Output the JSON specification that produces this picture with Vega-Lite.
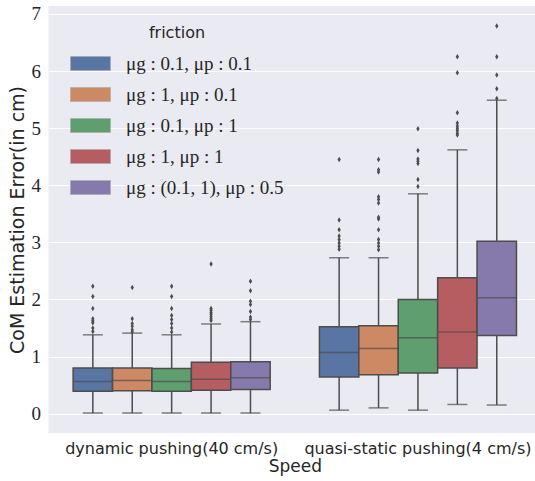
{
  "$schema": "https://vega.github.io/schema/vega-lite/v6.json",
  "width": 486.5,
  "height": 427,
  "autosize": {"type": "none"},
  "padding": {"left": 48.5, "top": 6, "right": 0, "bottom": 48},
  "background": "white",
  "config": {
    "view": {"fill": "#eaeaf2", "stroke": null},
    "axis": {"domain": false, "ticks": false, "labelColor": "#262626", "titleColor": "#262626", "titleFontWeight": "normal"}
  },
  "datasets": {
    "boxes": [
      {"speed": "dynamic pushing(40 cm/s)", "friction": "μg : 0.1, μp : 0.1", "lower": 0.01, "q1": 0.39, "median": 0.56, "q3": 0.80, "upper": 1.38},
      {"speed": "dynamic pushing(40 cm/s)", "friction": "μg : 1, μp : 0.1", "lower": 0.01, "q1": 0.40, "median": 0.58, "q3": 0.80, "upper": 1.41},
      {"speed": "dynamic pushing(40 cm/s)", "friction": "μg : 0.1, μp : 1", "lower": 0.01, "q1": 0.39, "median": 0.56, "q3": 0.79, "upper": 1.38},
      {"speed": "dynamic pushing(40 cm/s)", "friction": "μg : 1, μp : 1", "lower": 0.01, "q1": 0.41, "median": 0.60, "q3": 0.90, "upper": 1.57},
      {"speed": "dynamic pushing(40 cm/s)", "friction": "μg : (0.1, 1), μp : 0.5", "lower": 0.01, "q1": 0.42, "median": 0.63, "q3": 0.91, "upper": 1.61},
      {"speed": "quasi-static pushing(4 cm/s)", "friction": "μg : 0.1, μp : 0.1", "lower": 0.06, "q1": 0.64, "median": 1.07, "q3": 1.52, "upper": 2.73},
      {"speed": "quasi-static pushing(4 cm/s)", "friction": "μg : 1, μp : 0.1", "lower": 0.10, "q1": 0.68, "median": 1.14, "q3": 1.54, "upper": 2.73},
      {"speed": "quasi-static pushing(4 cm/s)", "friction": "μg : 0.1, μp : 1", "lower": 0.06, "q1": 0.71, "median": 1.33, "q3": 2.00, "upper": 3.85},
      {"speed": "quasi-static pushing(4 cm/s)", "friction": "μg : 1, μp : 1", "lower": 0.16, "q1": 0.80, "median": 1.43, "q3": 2.38, "upper": 4.62},
      {"speed": "quasi-static pushing(4 cm/s)", "friction": "μg : (0.1, 1), μp : 0.5", "lower": 0.15, "q1": 1.37, "median": 2.03, "q3": 3.02, "upper": 5.49}
    ],
    "outliers": [
      {"speed": "dynamic pushing(40 cm/s)", "friction": "μg : 0.1, μp : 0.1", "value": 2.23},
      {"speed": "dynamic pushing(40 cm/s)", "friction": "μg : 0.1, μp : 0.1", "value": 2.05},
      {"speed": "dynamic pushing(40 cm/s)", "friction": "μg : 0.1, μp : 0.1", "value": 1.84},
      {"speed": "dynamic pushing(40 cm/s)", "friction": "μg : 0.1, μp : 0.1", "value": 1.66},
      {"speed": "dynamic pushing(40 cm/s)", "friction": "μg : 0.1, μp : 0.1", "value": 1.62},
      {"speed": "dynamic pushing(40 cm/s)", "friction": "μg : 0.1, μp : 0.1", "value": 1.59},
      {"speed": "dynamic pushing(40 cm/s)", "friction": "μg : 0.1, μp : 0.1", "value": 1.50},
      {"speed": "dynamic pushing(40 cm/s)", "friction": "μg : 0.1, μp : 0.1", "value": 1.44},
      {"speed": "dynamic pushing(40 cm/s)", "friction": "μg : 1, μp : 0.1", "value": 2.21},
      {"speed": "dynamic pushing(40 cm/s)", "friction": "μg : 1, μp : 0.1", "value": 1.66},
      {"speed": "dynamic pushing(40 cm/s)", "friction": "μg : 1, μp : 0.1", "value": 1.58},
      {"speed": "dynamic pushing(40 cm/s)", "friction": "μg : 1, μp : 0.1", "value": 1.53},
      {"speed": "dynamic pushing(40 cm/s)", "friction": "μg : 1, μp : 0.1", "value": 1.47},
      {"speed": "dynamic pushing(40 cm/s)", "friction": "μg : 1, μp : 0.1", "value": 1.43},
      {"speed": "dynamic pushing(40 cm/s)", "friction": "μg : 0.1, μp : 1", "value": 2.23},
      {"speed": "dynamic pushing(40 cm/s)", "friction": "μg : 0.1, μp : 1", "value": 2.05},
      {"speed": "dynamic pushing(40 cm/s)", "friction": "μg : 0.1, μp : 1", "value": 1.84},
      {"speed": "dynamic pushing(40 cm/s)", "friction": "μg : 0.1, μp : 1", "value": 1.72},
      {"speed": "dynamic pushing(40 cm/s)", "friction": "μg : 0.1, μp : 1", "value": 1.65},
      {"speed": "dynamic pushing(40 cm/s)", "friction": "μg : 0.1, μp : 1", "value": 1.58},
      {"speed": "dynamic pushing(40 cm/s)", "friction": "μg : 0.1, μp : 1", "value": 1.50},
      {"speed": "dynamic pushing(40 cm/s)", "friction": "μg : 0.1, μp : 1", "value": 1.43},
      {"speed": "dynamic pushing(40 cm/s)", "friction": "μg : 1, μp : 1", "value": 2.62},
      {"speed": "dynamic pushing(40 cm/s)", "friction": "μg : 1, μp : 1", "value": 1.84},
      {"speed": "dynamic pushing(40 cm/s)", "friction": "μg : 1, μp : 1", "value": 1.81},
      {"speed": "dynamic pushing(40 cm/s)", "friction": "μg : 1, μp : 1", "value": 1.77},
      {"speed": "dynamic pushing(40 cm/s)", "friction": "μg : 1, μp : 1", "value": 1.74},
      {"speed": "dynamic pushing(40 cm/s)", "friction": "μg : 1, μp : 1", "value": 1.70},
      {"speed": "dynamic pushing(40 cm/s)", "friction": "μg : 1, μp : 1", "value": 1.66},
      {"speed": "dynamic pushing(40 cm/s)", "friction": "μg : 1, μp : 1", "value": 1.63},
      {"speed": "dynamic pushing(40 cm/s)", "friction": "μg : (0.1, 1), μp : 0.5", "value": 2.32},
      {"speed": "dynamic pushing(40 cm/s)", "friction": "μg : (0.1, 1), μp : 0.5", "value": 2.15},
      {"speed": "dynamic pushing(40 cm/s)", "friction": "μg : (0.1, 1), μp : 0.5", "value": 1.97},
      {"speed": "dynamic pushing(40 cm/s)", "friction": "μg : (0.1, 1), μp : 0.5", "value": 1.91},
      {"speed": "dynamic pushing(40 cm/s)", "friction": "μg : (0.1, 1), μp : 0.5", "value": 1.79},
      {"speed": "dynamic pushing(40 cm/s)", "friction": "μg : (0.1, 1), μp : 0.5", "value": 1.69},
      {"speed": "dynamic pushing(40 cm/s)", "friction": "μg : (0.1, 1), μp : 0.5", "value": 1.65},
      {"speed": "quasi-static pushing(4 cm/s)", "friction": "μg : 0.1, μp : 0.1", "value": 4.45},
      {"speed": "quasi-static pushing(4 cm/s)", "friction": "μg : 0.1, μp : 0.1", "value": 3.39},
      {"speed": "quasi-static pushing(4 cm/s)", "friction": "μg : 0.1, μp : 0.1", "value": 3.22},
      {"speed": "quasi-static pushing(4 cm/s)", "friction": "μg : 0.1, μp : 0.1", "value": 3.11},
      {"speed": "quasi-static pushing(4 cm/s)", "friction": "μg : 0.1, μp : 0.1", "value": 3.05},
      {"speed": "quasi-static pushing(4 cm/s)", "friction": "μg : 0.1, μp : 0.1", "value": 2.99},
      {"speed": "quasi-static pushing(4 cm/s)", "friction": "μg : 0.1, μp : 0.1", "value": 2.93},
      {"speed": "quasi-static pushing(4 cm/s)", "friction": "μg : 0.1, μp : 0.1", "value": 2.88},
      {"speed": "quasi-static pushing(4 cm/s)", "friction": "μg : 1, μp : 0.1", "value": 4.45},
      {"speed": "quasi-static pushing(4 cm/s)", "friction": "μg : 1, μp : 0.1", "value": 4.27},
      {"speed": "quasi-static pushing(4 cm/s)", "friction": "μg : 1, μp : 0.1", "value": 4.23},
      {"speed": "quasi-static pushing(4 cm/s)", "friction": "μg : 1, μp : 0.1", "value": 3.80},
      {"speed": "quasi-static pushing(4 cm/s)", "friction": "μg : 1, μp : 0.1", "value": 3.75},
      {"speed": "quasi-static pushing(4 cm/s)", "friction": "μg : 1, μp : 0.1", "value": 3.69},
      {"speed": "quasi-static pushing(4 cm/s)", "friction": "μg : 1, μp : 0.1", "value": 3.44},
      {"speed": "quasi-static pushing(4 cm/s)", "friction": "μg : 1, μp : 0.1", "value": 3.41},
      {"speed": "quasi-static pushing(4 cm/s)", "friction": "μg : 1, μp : 0.1", "value": 3.22},
      {"speed": "quasi-static pushing(4 cm/s)", "friction": "μg : 1, μp : 0.1", "value": 3.05},
      {"speed": "quasi-static pushing(4 cm/s)", "friction": "μg : 1, μp : 0.1", "value": 2.99},
      {"speed": "quasi-static pushing(4 cm/s)", "friction": "μg : 1, μp : 0.1", "value": 2.93},
      {"speed": "quasi-static pushing(4 cm/s)", "friction": "μg : 1, μp : 0.1", "value": 2.87},
      {"speed": "quasi-static pushing(4 cm/s)", "friction": "μg : 0.1, μp : 1", "value": 4.99},
      {"speed": "quasi-static pushing(4 cm/s)", "friction": "μg : 0.1, μp : 1", "value": 4.61},
      {"speed": "quasi-static pushing(4 cm/s)", "friction": "μg : 0.1, μp : 1", "value": 4.46},
      {"speed": "quasi-static pushing(4 cm/s)", "friction": "μg : 0.1, μp : 1", "value": 4.42},
      {"speed": "quasi-static pushing(4 cm/s)", "friction": "μg : 0.1, μp : 1", "value": 4.38},
      {"speed": "quasi-static pushing(4 cm/s)", "friction": "μg : 0.1, μp : 1", "value": 4.10},
      {"speed": "quasi-static pushing(4 cm/s)", "friction": "μg : 0.1, μp : 1", "value": 3.98},
      {"speed": "quasi-static pushing(4 cm/s)", "friction": "μg : 1, μp : 1", "value": 6.25},
      {"speed": "quasi-static pushing(4 cm/s)", "friction": "μg : 1, μp : 1", "value": 5.97},
      {"speed": "quasi-static pushing(4 cm/s)", "friction": "μg : 1, μp : 1", "value": 5.27},
      {"speed": "quasi-static pushing(4 cm/s)", "friction": "μg : 1, μp : 1", "value": 5.09},
      {"speed": "quasi-static pushing(4 cm/s)", "friction": "μg : 1, μp : 1", "value": 5.04},
      {"speed": "quasi-static pushing(4 cm/s)", "friction": "μg : 1, μp : 1", "value": 5.00},
      {"speed": "quasi-static pushing(4 cm/s)", "friction": "μg : 1, μp : 1", "value": 4.96},
      {"speed": "quasi-static pushing(4 cm/s)", "friction": "μg : 1, μp : 1", "value": 4.91},
      {"speed": "quasi-static pushing(4 cm/s)", "friction": "μg : 1, μp : 1", "value": 4.88},
      {"speed": "quasi-static pushing(4 cm/s)", "friction": "μg : (0.1, 1), μp : 0.5", "value": 6.79},
      {"speed": "quasi-static pushing(4 cm/s)", "friction": "μg : (0.1, 1), μp : 0.5", "value": 6.25},
      {"speed": "quasi-static pushing(4 cm/s)", "friction": "μg : (0.1, 1), μp : 0.5", "value": 5.93},
      {"speed": "quasi-static pushing(4 cm/s)", "friction": "μg : (0.1, 1), μp : 0.5", "value": 5.69},
      {"speed": "quasi-static pushing(4 cm/s)", "friction": "μg : (0.1, 1), μp : 0.5", "value": 5.52}
    ]
  },
  "encoding": {
    "x": {
      "field": "speed", "type": "nominal", "title": "Speed",
      "sort": ["dynamic pushing(40 cm/s)", "quasi-static pushing(4 cm/s)"],
      "scale": {"range": [0, 492.6], "paddingInner": 0.2, "paddingOuter": 0.1},
      "axis": {"labelAngle": 0, "labelLimit": 0, "labelFont": "DejaVu Sans", "labelFontSize": 16, "labelPadding": 7, "titleFont": "DejaVu Sans", "titleFontSize": 17, "titlePadding": 2, "grid": false}
    },
    "xOffset": {
      "field": "friction", "type": "nominal",
      "sort": ["μg : 0.1, μp : 0.1", "μg : 1, μp : 0.1", "μg : 0.1, μp : 1", "μg : 1, μp : 1", "μg : (0.1, 1), μp : 0.5"],
      "scale": {"paddingInner": 0, "paddingOuter": 0}
    }
  },
  "layer": [
    {
      "data": {"name": "boxes"},
      "mark": {"type": "rule", "color": "#4d4d4d", "strokeWidth": 1.5},
      "encoding": {
        "y": {"field": "lower", "type": "quantitative", "title": "CoM Estimation Error(in cm)",
          "scale": {"domain": [-0.34, 7.14], "nice": false, "zero": false},
          "axis": {"values": [0, 1, 2, 3, 4, 5, 6, 7], "format": "d", "gridColor": "white", "gridWidth": 1.2, "labelFont": "Liberation Serif", "labelFontSize": 19, "labelPadding": 8, "titleFont": "DejaVu Sans", "titleFontSize": 19, "titlePadding": 4}},
        "y2": {"field": "upper"}
      }
    },
    {
      "data": {"name": "boxes"},
      "mark": {"type": "tick", "color": "#4d4d4d", "thickness": 1.5, "size": 20, "orient": "horizontal"},
      "encoding": {"y": {"field": "lower", "type": "quantitative", "title": "CoM Estimation Error(in cm)"}}
    },
    {
      "data": {"name": "boxes"},
      "mark": {"type": "tick", "color": "#4d4d4d", "thickness": 1.5, "size": 20, "orient": "horizontal"},
      "encoding": {"y": {"field": "upper", "type": "quantitative", "title": "CoM Estimation Error(in cm)"}}
    },
    {
      "data": {"name": "boxes"},
      "mark": {"type": "bar", "stroke": "#4d4d4d", "strokeWidth": 1.5, "opacity": 1},
      "encoding": {
        "y": {"field": "q1", "type": "quantitative", "title": "CoM Estimation Error(in cm)"},
        "y2": {"field": "q3"},
        "color": {
          "field": "friction", "type": "nominal",
          "sort": ["μg : 0.1, μp : 0.1", "μg : 1, μp : 0.1", "μg : 0.1, μp : 1", "μg : 1, μp : 1", "μg : (0.1, 1), μp : 0.5"],
          "scale": {"range": ["#5875a4", "#cc8963", "#5f9e6e", "#b55d60", "#857aab"]},
          "legend": {
            "title": "friction", "orient": "none", "legendX": 21.5, "legendY": 19,
            "titleFont": "DejaVu Sans", "titleFontSize": 16, "titleFontWeight": "normal", "titleColor": "#262626",
            "titleAnchor": "middle", "titlePadding": 2,
            "labelFont": "Liberation Serif", "labelFontSize": 19, "labelColor": "#262626", "labelOffset": 15,
            "symbolType": "M-1,-0.35H1V0.35H-1Z", "symbolSize": 1600, "symbolStrokeColor": "#aaaaaa", "symbolStrokeWidth": 0.6, "symbolOpacity": 1,
            "rowPadding": -1, "padding": 0
          }
        }
      }
    },
    {
      "data": {"name": "boxes"},
      "mark": {"type": "tick", "color": "#4d4d4d", "thickness": 1.5, "size": 39.4, "orient": "horizontal"},
      "encoding": {"y": {"field": "median", "type": "quantitative", "title": "CoM Estimation Error(in cm)"}}
    },
    {
      "data": {"name": "outliers"},
      "mark": {"type": "point", "shape": "M0,-1L0.6,0L0,1L-0.6,0Z", "size": 30, "filled": true, "color": "#4d4d4d", "opacity": 1},
      "encoding": {"y": {"field": "value", "type": "quantitative", "title": "CoM Estimation Error(in cm)"}}
    }
  ]
}
